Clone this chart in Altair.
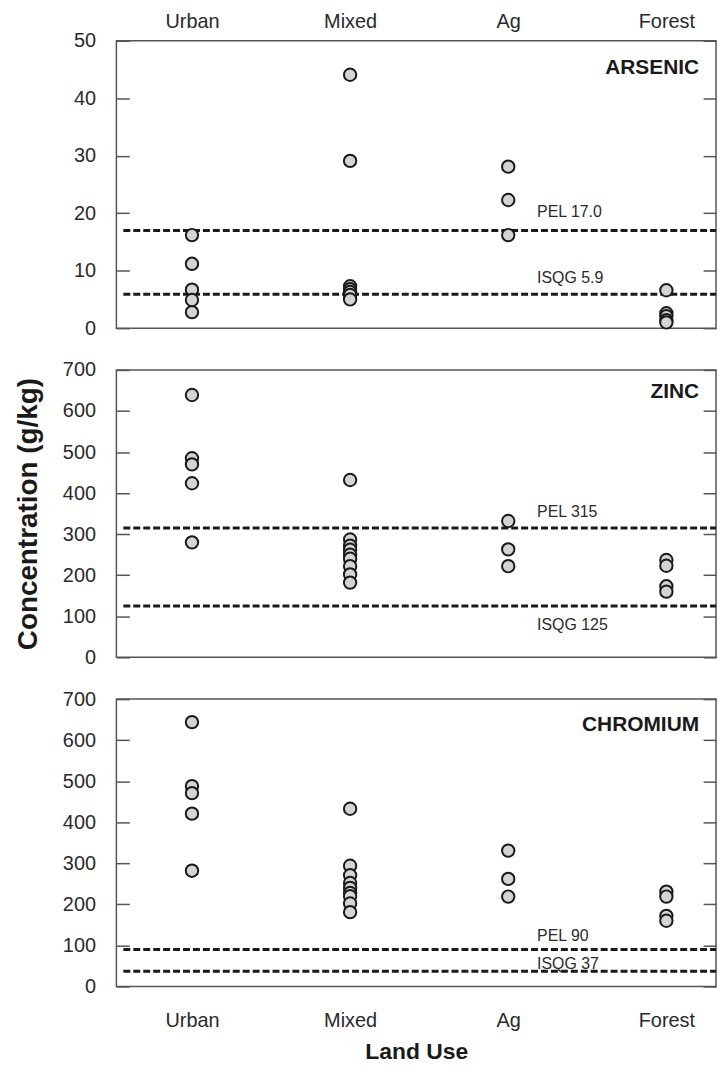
import json
import altair as alt
import pandas as pd

# ---------------- data ----------------
categories = ["Urban", "Mixed", "Ag", "Forest"]

arsenic_urban = [16.2, 11.2, 6.7, 4.9, 2.8]
arsenic_mixed = [44.1, 29.1, 7.3, 6.8, 6.3, 5.8, 5.0]
arsenic_ag = [28.1, 22.3, 16.2]
arsenic_forest = [6.6, 2.6, 2.1, 1.4, 1.0]

zinc_urban = [639, 485, 470, 424, 280]
zinc_mixed = [432, 287, 272, 262, 250, 240, 222, 202, 182]
zinc_ag = [332, 263, 222]
zinc_forest = [237, 223, 173, 160]

chromium_urban = [644, 488, 471, 421, 282]
chromium_mixed = [433, 294, 271, 252, 240, 228, 220, 202, 181]
chromium_ag = [331, 262, 219]
chromium_forest = [231, 219, 172, 160]

arsenic_guides = [17.0, 5.9]
arsenic_guide_labels = ["PEL 17.0", "ISQG 5.9"]
zinc_guides = [315, 125]
zinc_guide_labels = ["PEL 315", "ISQG 125"]
chromium_guides = [90, 37]
chromium_guide_labels = ["PEL 90", "ISQG 37"]

arsenic_ticks = [0, 10, 20, 30, 40, 50]
metal_ticks = [0, 100, 200, 300, 400, 500, 600, 700]

# ---------------- styling ----------------
W, H = 603, 289
FONT = "Liberation Sans"
DARK = "#1a1a1a"
label_expr = json.dumps(categories) + "[datum.value]"
xscale = alt.Scale(domain=[-0.478, 3.314], nice=False, zero=False)


def long_df(groups):
    rows = []
    for cat, vals in zip(categories, groups):
        for v in vals:
            rows.append({"landuse": cat, "xi": categories.index(cat), "value": v})
    return pd.DataFrame(rows)


def panel(name, groups, domain, ticks, guides, guide_labels, guide_dys,
          title_y, x_axis, y_title=None):
    df = long_df(groups)
    yscale = alt.Scale(domain=domain, nice=False, zero=True)
    left_axis_kw = dict(
        orient="left", values=ticks, offset=-13, tickSize=13, domain=False,
        grid=False, labelPadding=21, labelFontSize=20, labelFont=FONT,
        labelColor="#2a2a2a", tickColor="#555", tickWidth=1.5,
        labelFlush=False, labelOverlap=False,
    )
    if y_title:
        left_axis_kw.update(
            title=y_title, titleFont="Liberation Sans Narrow, Liberation Sans",
            titleFontSize=28, titleFontWeight="bold", titleColor=DARK,
            titlePadding=20,
        )
    else:
        left_axis_kw.update(title=None)
    left_axis = alt.Axis(**left_axis_kw)
    right_axis = alt.Axis(
        orient="right", values=ticks, offset=-13, tickSize=13, domain=False,
        grid=False, labels=False, title=None, tickColor="#555", tickWidth=1.5,
    )

    gdf = pd.DataFrame({"value": guides, "label": guide_labels})

    rules = alt.Chart(gdf).mark_rule(
        strokeDash=[7, 3], strokeWidth=3, color=DARK
    ).encode(
        x=alt.value(7), x2=alt.value(W),
        y=alt.Y("value:Q", scale=yscale, axis=right_axis),
    )

    pts = alt.Chart(df).mark_circle(
        size=155, fill="#d4d4d4", stroke=DARK, strokeWidth=2, opacity=1
    ).encode(
        x=alt.X("xi:Q", scale=xscale, axis=x_axis),
        y=alt.Y("value:Q", scale=yscale, axis=left_axis),
    )

    texts = []
    for i, dy in enumerate(guide_dys):
        texts.append(
            alt.Chart(gdf.iloc[[i]]).mark_text(
                align="left", baseline="middle", dy=dy, fontSize=16,
                font=FONT, color="#2a2a2a",
            ).encode(
                x=alt.value(423),
                y=alt.Y("value:Q", scale=yscale, axis=None),
                text="label:N",
            )
        )

    ttl = alt.Chart(pd.DataFrame({"t": [name]})).mark_text(
        align="right", baseline="middle", fontSize=21, fontWeight="bold",
        font=FONT, color=DARK,
    ).encode(x=alt.value(586), y=alt.value(title_y), text="t:N")

    return alt.layer(rules, pts, *texts, ttl).resolve_axis(
        y="independent"
    ).properties(width=W, height=H)


top_axis = alt.Axis(
    orient="top", values=[0, 1, 2, 3], labelExpr=label_expr, ticks=False,
    tickSize=0, domain=False, grid=False, labelFontSize=20, labelFont=FONT,
    labelColor="#2a2a2a", labelPadding=9, title=None, labelFlush=False,
)
bottom_axis = alt.Axis(
    orient="bottom", values=[0, 1, 2, 3], labelExpr=label_expr, ticks=False,
    tickSize=0, domain=False, grid=False, labelFontSize=20, labelFont=FONT,
    labelColor="#2a2a2a", labelPadding=24, title="Land Use",
    titleFontSize=23, titleFont=FONT, titleFontWeight="bold",
    titleColor=DARK, titlePadding=10, labelFlush=False,
)

p1 = panel("ARSENIC", [arsenic_urban, arsenic_mixed, arsenic_ag, arsenic_forest],
           [0, 50], arsenic_ticks, arsenic_guides, arsenic_guide_labels,
           [-19, -16], 27, top_axis)
p2 = panel("ZINC", [zinc_urban, zinc_mixed, zinc_ag, zinc_forest],
           [0, 700], metal_ticks, zinc_guides, zinc_guide_labels,
           [-16, 19], 22, None, y_title="Concentration (g/kg)")
p3 = panel("CHROMIUM", [chromium_urban, chromium_mixed, chromium_ag, chromium_forest],
           [0, 700], metal_ticks, chromium_guides, chromium_guide_labels,
           [-14, -7], 26, bottom_axis)

chart = alt.vconcat(p1, p2, p3, spacing=42, bounds="flush").configure_view(
    stroke="#555", strokeWidth=1.5
).properties(padding={"left": 5, "top": 0, "right": 0, "bottom": 0},
             background="white")

chart.save("out.html", embed_options={"renderer": "svg", "actions": False})
